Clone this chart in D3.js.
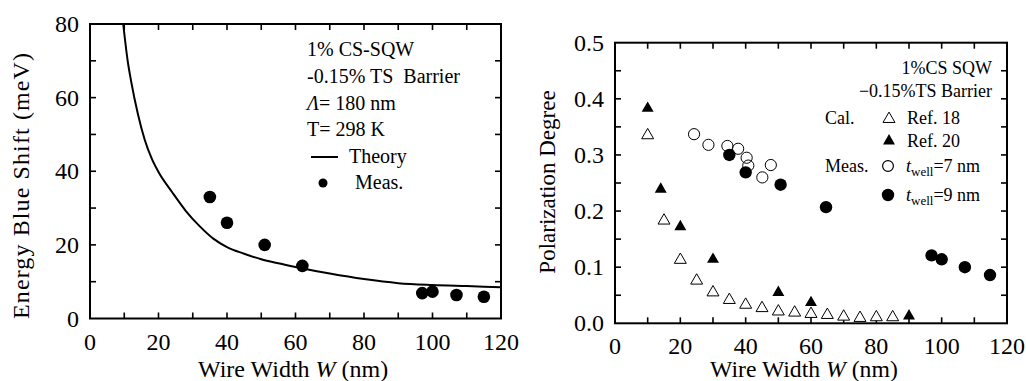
<!DOCTYPE html>
<html><head><meta charset="utf-8">
<script src="https://cdn.jsdelivr.net/npm/d3@7"></script>
</head>
<body style="margin:0;background:#fff">
<svg id="c" width="1026" height="381"></svg>
<script>
// ---------- Left panel data ----------
const leftXTicks = [0,20,40,60,80,100,120];
const leftYTicks = [0,20,40,60,80];
const theoryW = [9.7,11,12,14,16,18,20,24,28,32,36,40,45,50,55,60,70,80,90,100,110,120];
const theoryE = [80,70,64.5,55.5,48.5,43.5,39.8,34.3,29.2,25.1,21.7,19.4,17.6,16.1,15.0,14.0,12.2,10.7,9.6,9.1,8.8,8.5];
const measW = [35,40,51,62,97,100,107,115];
const measE = [33,26,20,14.3,6.9,7.3,6.4,5.9];
const leftLegendLines = ["1% CS-SQW","-0.15% TS\u00a0\u00a0Barrier","= 180 nm","T= 298 K"];

// ---------- Right panel data ----------
const rightXTicks = [0,20,40,60,80,100,120];
const rightYTicks = [0,0.1,0.2,0.3,0.4,0.5];
const ref18W = [10,15,20,25,30,35,40,45,50,55,60,65,70,75,80,85];
const ref18P = [0.335,0.183,0.113,0.076,0.055,0.0415,0.033,0.027,0.021,0.019,0.0166,0.0148,0.0118,0.0095,0.0107,0.0107];
const ref20W = [10,14,20,30,50,60,90];
const ref20P = [0.383,0.239,0.172,0.114,0.055,0.037,0.013];
const well7W = [24.2,28.6,34.4,37.7,40.3,40.8,45.1,47.7];
const well7P = [0.337,0.318,0.316,0.311,0.295,0.281,0.260,0.282];
const well9W = [35,40,50.7,64.6,96.9,100,107.1,114.8];
const well9P = [0.300,0.269,0.247,0.207,0.121,0.114,0.100,0.086];

const svg = d3.select("#c");
function txt(g, x, y, size){
  return g.append("text").attr("x",x).attr("y",y).attr("font-size",size)
    .style("font-family","Liberation Serif").attr("fill","#000");
}

function frame(g, x, y, xMinor, yMinor, xTicks, yTicks, yFmt){
  const [x0,x1] = x.range(), [y0,y1] = y.range();
  const tl = 6;
  const tickG = g.append("g").attr("stroke","#000").attr("stroke-width",1.6);
  xMinor.forEach(v=>{
    const px = x(v);
    tickG.append("line").attr("x1",px).attr("x2",px).attr("y1",y0).attr("y2",y0-tl);
    tickG.append("line").attr("x1",px).attr("x2",px).attr("y1",y1).attr("y2",y1+tl);
  });
  yMinor.forEach(v=>{
    const py = y(v);
    tickG.append("line").attr("x1",x0).attr("x2",x0+tl).attr("y1",py).attr("y2",py);
    tickG.append("line").attr("x1",x1).attr("x2",x1-tl).attr("y1",py).attr("y2",py);
  });
  g.append("rect").attr("x",x0).attr("y",y1).attr("width",x1-x0).attr("height",y0-y1)
    .attr("fill","none").attr("stroke","#000").attr("stroke-width",2);
  xTicks.forEach(d=>{ txt(g, x(d), y0+31, 24).attr("text-anchor","middle").text(String(d)); });
  yTicks.forEach(d=>{ txt(g, x0-11, y(d)+8, 24).attr("text-anchor","end").text(yFmt(d)); });
}

// ---------- Left panel ----------
const xL = d3.scaleLinear().domain([0,120]).range([90,501]);
const yL = d3.scaleLinear().domain([0,80]).range([318.5,24]);
const gL = svg.append("g");
frame(gL, xL, yL, d3.range(10,120,10), d3.range(10,80,10), leftXTicks, leftYTicks, d=>String(d));

const theory = theoryW.map((w,i)=>[w,theoryE[i]]);
gL.append("path").datum(theory)
  .attr("d", d3.line().x(d=>xL(d[0])).y(d=>yL(d[1])).curve(d3.curveMonotoneX))
  .attr("fill","none").attr("stroke","#000").attr("stroke-width",2);
gL.selectAll(".m").data(measW).enter().append("circle")
  .attr("cx",d=>xL(d)).attr("cy",(d,i)=>yL(measE[i])).attr("r",6.3).attr("fill","#000");

// left legend
const llY = [56,83,110,136];
leftLegendLines.forEach((t,i)=>{
  const tx = txt(gL, 307, llY[i], 20);
  if(i===2){
    tx.append("tspan").attr("font-style","italic").text("Λ");
    tx.append("tspan").text(t);
  } else tx.text(t);
});
gL.append("line").attr("x1",311).attr("x2",338).attr("y1",157).attr("y2",157).attr("stroke","#000").attr("stroke-width",2);
txt(gL, 349, 163, 20).text("Theory");
gL.append("circle").attr("cx",323).attr("cy",183).attr("r",4.5).attr("fill","#000");
txt(gL, 355, 189, 20).text("Meas.");

// left titles
const xtL = txt(gL, 198, 377, 24);
xtL.append("tspan").text("Wire Width ");
xtL.append("tspan").attr("font-style","italic").text("W");
xtL.append("tspan").text(" (nm)");
txt(gL, 0, 0, 24).attr("transform","translate(29,186) rotate(-90)").attr("text-anchor","middle")
  .attr("textLength",266).attr("lengthAdjust","spacing")
  .text("Energy Blue Shift (meV)");

// ---------- Right panel ----------
const xR = d3.scaleLinear().domain([0,120]).range([615,1007]);
const yR = d3.scaleLinear().domain([0,0.5]).range([323.3,42.7]);
const gR = svg.append("g");
frame(gR, xR, yR, d3.range(10,120,10), d3.range(0.05,0.5,0.05), rightXTicks, rightYTicks, d=>d.toFixed(1));

const tri = d3.symbol().type(d3.symbolTriangle).size(62);
function triPath(cx,cy){ return `translate(${cx},${cy})`; }
gR.selectAll(".r18").data(ref18W).enter().append("path")
  .attr("d",tri).attr("transform",(d,i)=>triPath(xR(d),yR(ref18P[i])))
  .attr("fill","#fff").attr("stroke","#000").attr("stroke-width",1);
gR.selectAll(".r20").data(ref20W).enter().append("path")
  .attr("d",tri).attr("transform",(d,i)=>triPath(xR(d),yR(ref20P[i])))
  .attr("fill","#000");
gR.selectAll(".w7").data(well7W).enter().append("circle")
  .attr("cx",d=>xR(d)).attr("cy",(d,i)=>yR(well7P[i])).attr("r",5.6)
  .attr("fill","none").attr("stroke","#000").attr("stroke-width",1);
gR.selectAll(".w9").data(well9W).enter().append("circle")
  .attr("cx",d=>xR(d)).attr("cy",(d,i)=>yR(well9P[i])).attr("r",6.2).attr("fill","#000");

// right legend
const fsR = 18;
txt(gR, 992, 74, fsR).attr("text-anchor","end").text("1%CS SQW");
txt(gR, 992, 97, fsR).attr("text-anchor","end").text("\u22120.15%TS Barrier");
txt(gR, 825, 124, fsR).text("Cal.");
gR.append("path").attr("d",tri).attr("transform",triPath(889,119)).attr("fill","#fff").attr("stroke","#000");
txt(gR, 907, 124, fsR).text("Ref. 18");
gR.append("path").attr("d",tri).attr("transform",triPath(889,141)).attr("fill","#000");
txt(gR, 907, 147, fsR).text("Ref. 20");
txt(gR, 825, 172, fsR).text("Meas.");
gR.append("circle").attr("cx",888).attr("cy",166).attr("r",5.4).attr("fill","none").attr("stroke","#000").attr("stroke-width",1.2);
gR.append("circle").attr("cx",888).attr("cy",195).attr("r",6.2).attr("fill","#000");
function wellLabel(y,val){
  const t = txt(gR, 906, y, fsR);
  t.append("tspan").attr("font-style","italic").text("t");
  t.append("tspan").attr("font-size",13).attr("dy",4).text("well");
  t.append("tspan").attr("dy",-4).text("="+val+" nm");
}
wellLabel(172,7);
wellLabel(201,9);

// right titles
const xtR = txt(gR, 710, 377, 23.7);
xtR.append("tspan").text("Wire Width ");
xtR.append("tspan").attr("font-style","italic").text("W");
xtR.append("tspan").text(" (nm)");
txt(gR, 0, 0, 23).attr("transform","translate(555,182) rotate(-90)").attr("text-anchor","middle")
  .text("Polarization Degree");
</script>
</body></html>
